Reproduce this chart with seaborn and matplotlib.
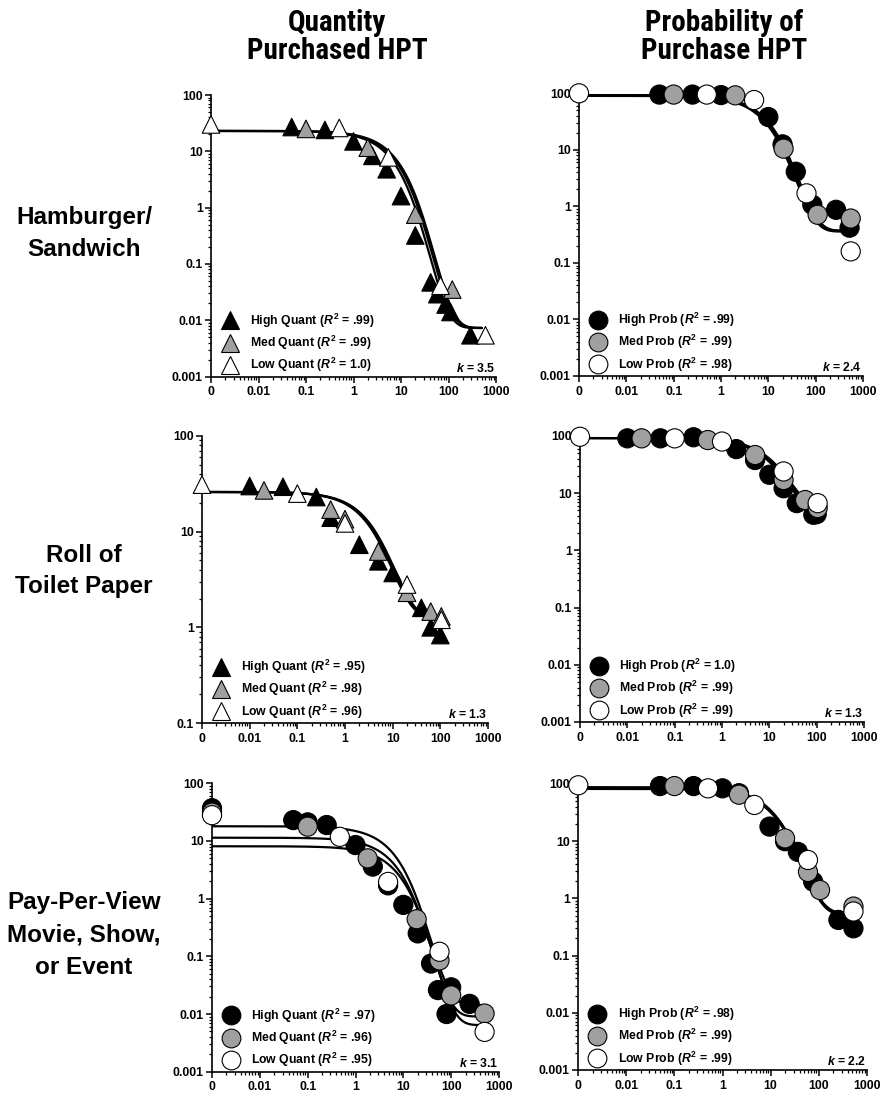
import numpy as np
import pandas as pd
import matplotlib
matplotlib.use("Agg")
import matplotlib.pyplot as plt
from matplotlib.lines import Line2D
from matplotlib.ticker import LogLocator, NullFormatter
from matplotlib import font_manager
import seaborn as sns

# ---------------- values ----------------
# price 0 is drawn at the "0" tick (0.001 on the log axis)
groups = ["High", "Med", "Low"]

# Hamburger / Sandwich - quantity purchased
burger_q_high_x = [0.05, 0.25, 1, 2.5, 5, 10, 20, 42, 58, 87, 110, 290]
burger_q_high_y = [27, 24, 15, 8.3, 4.8, 1.6, 0.32, 0.047, 0.029, 0.019, 0.014, 0.0054]
burger_q_med_x = [0.1, 2, 20, 120]
burger_q_med_y = [25, 11.6, 0.75, 0.035]
burger_q_low_x = [0, 0.5, 5.4, 68, 600]
burger_q_low_y = [30, 26, 7.8, 0.041, 0.0054]
burger_q_r2 = [".99", ".99", "1.0"]
burger_q_k = 3.5
burger_q_q0 = [23, 23, 23]
burger_q_alpha = [0.00108, 0.00086, 0.00094]

# Hamburger / Sandwich - probability of purchase
burger_p_high_x = [0.05, 0.25, 1, 10, 20, 38, 85, 270, 520]
burger_p_high_y = [95, 95, 93, 38, 12.5, 4.1, 1.07, 0.87, 0.42]
burger_p_med_x = [0.1, 2, 21, 110, 550]
burger_p_med_y = [95, 92, 10.5, 0.71, 0.61]
burger_p_low_x = [0, 0.5, 5, 64, 550]
burger_p_low_y = [100, 95, 76, 1.7, 0.16]
burger_p_r2 = [".99", ".99", ".98"]
burger_p_k = 2.4
burger_p_q0 = [93, 93, 90]
burger_p_alpha = [0.00026, 0.00024, 0.00028]

# Roll of toilet paper - quantity purchased
paper_q_high_x = [0.01, 0.05, 0.25, 0.5, 2, 5, 10, 40, 63, 100]
paper_q_high_y = [30, 29.5, 23, 14, 7.3, 4.9, 3.7, 1.6, 1.0, 0.83]
paper_q_med_x = [0.02, 0.5, 1, 5, 20, 63, 105]
paper_q_med_y = [27, 17, 13.5, 6.2, 2.3, 1.46, 1.3]
paper_q_low_x = [0, 0.1, 1, 20, 105]
paper_q_low_y = [31, 25, 12.2, 2.8, 1.2]
paper_q_r2 = [".95", ".98", ".96"]
paper_q_k = 1.3
paper_q_q0 = [26, 26, 26]
paper_q_alpha = [0.0036, 0.0034, 0.0038]

# Roll of toilet paper - probability of purchase
paper_p_high_x = [0.01, 0.05, 0.25, 2, 5, 10, 20, 38, 85, 100]
paper_p_high_y = [91, 91, 95, 59, 38, 21, 12.2, 6.7, 4.2, 4.3]
paper_p_med_x = [0.02, 0.5, 5, 20, 57, 105]
paper_p_med_y = [91, 85, 46.5, 17, 7.6, 5.5]
paper_p_low_x = [0, 0.1, 1, 20, 105]
paper_p_low_y = [97, 91, 80, 24, 6.7]
paper_p_r2 = ["1.0", ".99", ".99"]
paper_p_k = 1.3
paper_p_q0 = [92, 92, 92]
paper_p_alpha = [0.00042, 0.00038, 0.00035]

# Pay-per-view - quantity purchased
ppv_q_high_x = [0, 0.05, 0.1, 0.25, 1, 2.3, 4.8, 10, 20, 38, 53, 80, 100, 243]
ppv_q_high_y = [37, 23, 21, 18.9, 8.5, 3.6, 1.7, 0.78, 0.25, 0.075, 0.026, 0.010, 0.029, 0.015]
ppv_q_med_x = [0, 0.1, 1.8, 19, 57, 100, 500]
ppv_q_med_y = [31, 17.7, 5.0, 0.44, 0.085, 0.021, 0.0102]
ppv_q_low_x = [0, 0.47, 4.8, 57, 500]
ppv_q_low_y = [28, 11.8, 1.95, 0.12, 0.0049]
ppv_q_r2 = [".97", ".96", ".95"]
ppv_q_k = 3.1
ppv_q_q0 = [18, 11.4, 8.1]
ppv_q_alpha = [0.0015, 0.0022, 0.0027]

# Pay-per-view - probability of purchase
ppv_p_high_x = [0.05, 0.25, 1, 2.2, 9.5, 20, 37, 77, 258, 530]
ppv_p_high_y = [92, 92, 84, 69, 18, 10, 6.5, 1.96, 0.42, 0.30]
ppv_p_med_x = [0.1, 2.2, 20, 60, 107, 530]
ppv_p_med_y = [92, 65, 11.2, 2.9, 1.4, 0.72]
ppv_p_low_x = [0, 0.5, 4.6, 60, 530]
ppv_p_low_y = [95, 84, 43, 4.7, 0.59]
ppv_p_r2 = [".98", ".99", ".99"]
ppv_p_k = 2.2
ppv_p_q0 = [88, 85, 82]
ppv_p_alpha = [0.00023, 0.00024, 0.00025]

col_titles = ["Quantity\nPurchased HPT", "Probability of\nPurchase HPT"]
row_titles = ["Hamburger/\nSandwich", "Roll of\nToilet Paper", "Pay-Per-View\nMovie, Show,\nor Event"]

# ---------------- style ----------------
sns.set_theme(style="ticks", rc={
    "axes.linewidth": 1.2,
    "xtick.major.width": 1.1, "ytick.major.width": 1.1,
    "xtick.minor.width": 0.9, "ytick.minor.width": 0.9,
    "xtick.major.size": 4, "ytick.major.size": 4,
    "xtick.minor.size": 2.2, "ytick.minor.size": 2.2,
    "xtick.major.pad": 3, "ytick.major.pad": 2,
    "xtick.color": "black", "ytick.color": "black",
    "axes.edgecolor": "black", "text.color": "black",
    "axes.labelcolor": "black",
})
plt.rcParams["font.family"] = ["Liberation Sans", "DejaVu Sans"]
plt.rcParams["font.weight"] = "bold"
plt.rcParams["mathtext.fontset"] = "custom"
plt.rcParams["mathtext.rm"] = "Liberation Sans:bold"
plt.rcParams["mathtext.it"] = "Liberation Sans:italic:bold"
plt.rcParams["mathtext.bf"] = "Liberation Sans:bold"

# a condensed bold face for the column headers if one is installed
names = {f.name for f in font_manager.fontManager.ttflist}
narrow = [n for n in ["Liberation Sans Narrow", "Roboto Condensed", "Open Sans Condensed",
                      "DejaVu Sans Condensed"] if n in names]
head_family = narrow[:1] + ["Liberation Sans", "DejaVu Sans"]

fills = {"High": "black", "Med": "#a0a0a0", "Low": "white"}
W, H = 881, 1096
fig = plt.figure(figsize=(W / 100, H / 100), dpi=100)


def rect(l, r, t, b):
    return [l / W, 1 - b / H, (r - l) / W, (b - t) / H]


def demand(c, q0, alpha, k):
    return 10 ** (np.log10(q0) + k * (np.exp(-alpha * q0 * c) - 1))


panels = [
    dict(pos=rect(211, 496, 95, 376.5), ylo=-3, marker="^", kind="Quant",
         xs=[burger_q_high_x, burger_q_med_x, burger_q_low_x],
         ys=[burger_q_high_y, burger_q_med_y, burger_q_low_y],
         r2=burger_q_r2, k=burger_q_k, q0=burger_q_q0, alpha=burger_q_alpha, cmax=500),
    dict(pos=rect(579, 863, 93.3, 376), ylo=-3, marker="o", kind="Prob",
         xs=[burger_p_high_x, burger_p_med_x, burger_p_low_x],
         ys=[burger_p_high_y, burger_p_med_y, burger_p_low_y],
         r2=burger_p_r2, k=burger_p_k, q0=burger_p_q0, alpha=burger_p_alpha, cmax=500),
    dict(pos=rect(202, 488, 436, 723), ylo=-1, marker="^", kind="Quant",
         xs=[paper_q_high_x, paper_q_med_x, paper_q_low_x],
         ys=[paper_q_high_y, paper_q_med_y, paper_q_low_y],
         r2=paper_q_r2, k=paper_q_k, q0=paper_q_q0, alpha=paper_q_alpha, cmax=100),
    dict(pos=rect(580, 864, 436, 722), ylo=-3, marker="o", kind="Prob",
         xs=[paper_p_high_x, paper_p_med_x, paper_p_low_x],
         ys=[paper_p_high_y, paper_p_med_y, paper_p_low_y],
         r2=paper_p_r2, k=paper_p_k, q0=paper_p_q0, alpha=paper_p_alpha, cmax=100),
    dict(pos=rect(212, 499, 783.3, 1071.7), ylo=-3, marker="o", kind="Quant",
         xs=[ppv_q_high_x, ppv_q_med_x, ppv_q_low_x],
         ys=[ppv_q_high_y, ppv_q_med_y, ppv_q_low_y],
         r2=ppv_q_r2, k=ppv_q_k, q0=ppv_q_q0, alpha=ppv_q_alpha, cmax=500),
    dict(pos=rect(578.3, 866.7, 784, 1070), ylo=-3, marker="o", kind="Prob",
         xs=[ppv_p_high_x, ppv_p_med_x, ppv_p_low_x],
         ys=[ppv_p_high_y, ppv_p_med_y, ppv_p_low_y],
         r2=ppv_p_r2, k=ppv_p_k, q0=ppv_p_q0, alpha=ppv_p_alpha, cmax=500),
]

for p in panels:
    ax = fig.add_axes(p["pos"])
    ax.set_xscale("log")
    ax.set_yscale("log")

    # fitted curves
    for q0, a in zip(p["q0"], p["alpha"]):
        cx = np.logspace(-3, np.log10(p["cmax"]), 400)
        sns.lineplot(x=cx, y=demand(cx, q0, a, p["k"]), ax=ax, color="black",
                     lw=1.6, legend=False, zorder=2)

    # observed points
    df = pd.concat([pd.DataFrame({"price": x, "value": y, "group": g})
                    for g, x, y in zip(groups, p["xs"], p["ys"])], ignore_index=True)
    df["xpos"] = df["price"].where(df["price"] > 0, 0.001)
    size = 160 if p["marker"] == "^" else 190
    sns.scatterplot(data=df, x="xpos", y="value", hue="group", palette=fills,
                    marker=p["marker"], s=size, edgecolor="black", linewidth=0.8,
                    legend=False, ax=ax, clip_on=False, zorder=3)

    ax.set_xlim(0.001, 1000)
    ax.set_ylim(10.0 ** p["ylo"], 100)
    ax.set_xticks([10.0 ** e for e in range(-3, 4)])
    ax.set_xticklabels(["0", "0.01", "0.1", "1", "10", "100", "1000"], fontsize=8.8, fontweight="bold")
    yt = [10.0 ** e for e in range(p["ylo"], 3)]
    ax.set_yticks(yt)
    ax.set_yticklabels(["%g" % v for v in yt], fontsize=8.8, fontweight="bold")
    ax.xaxis.set_minor_locator(LogLocator(base=10, subs=np.arange(2, 10), numticks=20))
    ax.yaxis.set_minor_locator(LogLocator(base=10, subs=np.arange(2, 10), numticks=20))
    ax.xaxis.set_minor_formatter(NullFormatter())
    ax.yaxis.set_minor_formatter(NullFormatter())
    ax.set_xlabel("")
    ax.set_ylabel("")
    sns.despine(ax=ax)

    handles = [Line2D([], [], ls="none", marker=p["marker"], markersize=13.5 if p["marker"] == "o" else 13,
                      markerfacecolor=fills[g], markeredgecolor="black", markeredgewidth=0.8)
               for g in groups]
    labels = [r"%s %s ($\mathit{R}^{2}$ = %s)" % (g, p["kind"], r) for g, r in zip(groups, p["r2"])]
    ax.legend(handles, labels, loc="lower left", bbox_to_anchor=(0.041, 0.008), frameon=False,
              prop={"weight": "bold", "size": 8.8}, handlelength=1.2, handletextpad=1.04,
              labelspacing=0.34, borderaxespad=0.0, borderpad=0.0)

    ax.text(0.997, 0.006, r"$\mathit{k}$ = %s" % p["k"], transform=ax.transAxes,
            ha="right", va="bottom", fontsize=8.8, fontweight="bold")

# column and row titles
for t, xc in zip(col_titles, [337, 724]):
    fig.text(xc / W, 1 - 37 / H, t, ha="center", va="center", fontsize=21,
             fontweight="bold", family=head_family, fontstretch="condensed", linespacing=0.98)
for t, yc in zip(row_titles, [234, 571, 935]):
    fig.text(84 / W, 1 - yc / H, t, ha="center", va="center", fontsize=17.5,
             fontweight="bold", linespacing=1.5)

fig.savefig("out.png", dpi=100)
